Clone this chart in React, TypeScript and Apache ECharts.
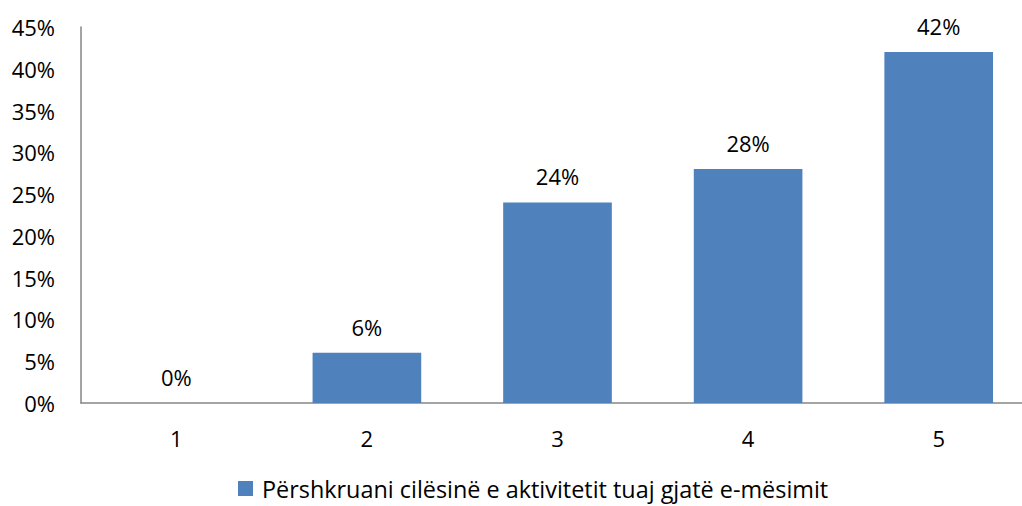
import React, { useEffect, useRef } from "react";
import * as echarts from "echarts";

const categories = ["1", "2", "3", "4", "5"];
const values = [0, 6, 24, 28, 42];
const seriesName = "Përshkruani cilësinë e aktivitetit tuaj gjatë e-mësimit";
const FONT = "'Open Sans', 'Noto Sans', sans-serif";

export default function App() {
  const ref = useRef<HTMLDivElement>(null);
  useEffect(() => {
    document.body.style.margin = "0";
    document.body.style.overflow = "hidden";
    const chart = echarts.init(ref.current!, null, { renderer: "svg" });
    chart.setOption({
      animation: false,
      textStyle: { fontFamily: FONT },
      grid: { left: 81, right: 0, top: 27, bottom: 103, containLabel: false },
      legend: {
        top: 477,
        left: 238,
        padding: 0,
        itemWidth: 15,
        itemHeight: 15,
        itemGap: 8,
        icon: "rect",
        textStyle: {
          fontSize: 23.4,
          lineHeight: 22,
          color: "#000",
          fontFamily: FONT,
          padding: [0, 0, 0, 4],
        },
        data: [seriesName],
      },
      xAxis: {
        type: "category",
        data: categories,
        axisLine: { lineStyle: { color: "#868686", width: 1.5 } },
        axisTick: { show: false },
        axisLabel: { fontSize: 22, color: "#000", margin: 24, fontFamily: FONT },
      },
      yAxis: {
        type: "value",
        min: 0,
        max: 45,
        interval: 5,
        axisLine: { show: true, lineStyle: { color: "#868686", width: 1.5 } },
        axisTick: { show: false },
        splitLine: { show: false },
        axisLabel: {
          fontSize: 22,
          color: "#000",
          margin: 26,
          fontFamily: FONT,
          formatter: (v: number) => v + "%",
        },
      },
      series: [
        {
          name: seriesName,
          type: "bar",
          data: values,
          barWidth: "57%",
          itemStyle: { color: "#4F81BD" },
          label: {
            show: true,
            position: "top",
            distance: 15,
            fontSize: 22,
            color: "#000",
            fontFamily: FONT,
            formatter: (p: any) => p.value + "%",
          },
        },
      ],
    });
    return () => chart.dispose();
  }, []);
  return <div ref={ref} style={{ width: 1034, height: 506 }} />;
}
